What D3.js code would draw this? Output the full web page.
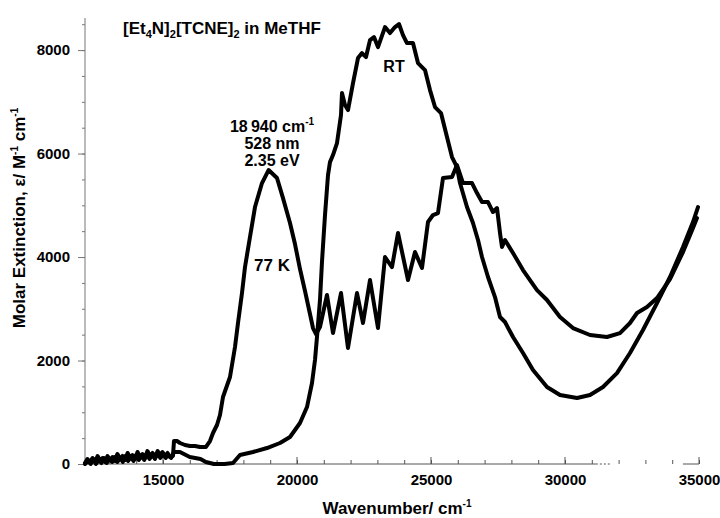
<!DOCTYPE html>
<html>
<head>
<meta charset="utf-8">
<script src="https://cdn.jsdelivr.net/npm/d3@7"></script>
<style>
  body { margin: 0; background: #fff; }
  text { font-family: "Liberation Sans", Arial, sans-serif; font-weight: bold; fill: #000; }
</style>
</head>
<body>
<div id="chart"></div>
<script>
// Spectrum at 77 K: [wavenumber cm-1, molar extinction]
const spec77K = [
  [12090, 19], [12180, 97], [12276, 39], [12370, 116], [12463, 39], [12560, 155], [12649, 58],
  [12740, 116], [12836, 39], [12930, 155], [13022, 77], [13115, 135], [13209, 58], [13300, 193],
  [13396, 97], [13490, 155], [13582, 77], [13680, 213], [13769, 116], [13860, 174], [13955, 97],
  [14050, 232], [14142, 135], [14235, 193], [14328, 116], [14420, 251], [14515, 155], [14610, 213],
  [14701, 135], [14800, 251], [14888, 174], [14980, 232], [15075, 155], [15170, 213], [15261, 135],
  [15373, 155], [15410, 444], [15522, 444], [15634, 406], [15821, 367], [16007, 348],
  [16194, 348], [16381, 329], [16604, 329], [16754, 444], [16866, 599], [17015, 754],
  [17127, 947], [17239, 1295], [17500, 1681], [17687, 2261], [17799, 2725], [17948, 3304],
  [18060, 3807], [18246, 4387], [18433, 4966], [18694, 5430], [18940, 5681], [19254, 5527],
  [19478, 5140], [19739, 4657], [19925, 4251], [20112, 3768], [20299, 3343], [20485, 2899],
  [20597, 2628], [20710, 2512], [20858, 2647], [21119, 3266], [21343, 2531], [21642, 3304],
  [21903, 2241], [22239, 3304], [22463, 2725], [22724, 3556], [23022, 2628], [23284, 4000],
  [23545, 3807], [23769, 4464], [24142, 3556], [24403, 4097], [24664, 3788], [24888, 4677],
  [25075, 4812], [25261, 4850], [25448, 5527], [25784, 5546], [25970, 5778], [26194, 5430],
  [26530, 5430], [26716, 5237], [26903, 5063], [27127, 5063], [27313, 4870], [27463, 4947],
  [27575, 4464], [27649, 4193], [27761, 4329], [28060, 4077], [28433, 3749], [28955, 3362],
  [29328, 3169], [29813, 2841], [30298, 2628], [30933, 2493], [31567, 2454], [32052, 2531],
  [32425, 2725], [32687, 2918], [33060, 3034], [33433, 3208], [33918, 3575], [34403, 4097],
  [34776, 4561], [34925, 4754]
];

// Spectrum at room temperature
const specRT = [
  [12090, 0], [12200, 58], [12300, 0], [12400, 97], [12500, 0], [12600, 77], [12700, 19],
  [12800, 116], [12900, 19], [13000, 97], [13100, 39], [13200, 135], [13300, 39], [13400, 116],
  [13500, 39], [13600, 155], [13700, 58], [13800, 135], [13900, 58], [14000, 174], [14100, 77],
  [14200, 155], [14300, 77], [14400, 193], [14500, 97], [14600, 174], [14700, 97], [14800, 213],
  [14900, 116], [15000, 193], [15100, 116], [15200, 174], [15300, 116], [15410, 232],
  [15634, 232], [16000, 135], [16400, 97], [16600, 39], [16900, 0], [17300, 0],
  [17612, 19], [17873, 174], [18358, 232], [18881, 309], [19366, 406], [19739, 522],
  [20112, 792], [20373, 1101], [20560, 1565], [20672, 2010], [20746, 2454], [20858, 3169],
  [20932, 3903], [21045, 4812], [21157, 5584], [21231, 5835], [21343, 5971], [21493, 6203],
  [21642, 6744], [21679, 7169], [21790, 6938], [21903, 6841], [22090, 7362], [22276, 7846],
  [22425, 7942], [22575, 7865], [22724, 8193], [22873, 8251], [23022, 8058], [23284, 8445],
  [23470, 8329], [23657, 8445], [23806, 8503], [23955, 8290], [24104, 8135], [24328, 8135],
  [24515, 7749], [24776, 7614], [24963, 7227], [25149, 6899], [25373, 6783], [25597, 6319],
  [25784, 5932], [25970, 5739], [26082, 5430], [26343, 4966], [26567, 4657], [26754, 4329],
  [26903, 4000], [27127, 3614], [27388, 3227], [27575, 2841], [27761, 2744], [28060, 2454],
  [28433, 2145], [28806, 1816], [29328, 1488], [29813, 1333], [30448, 1275], [30933, 1333],
  [31418, 1488], [31940, 1758], [32425, 2145], [32910, 2589], [33433, 3111], [33918, 3614],
  [34403, 4193], [34776, 4677], [34963, 4966]
];

const xTicks = [15000, 20000, 25000, 30000, 35000];
const yTicks = [0, 2000, 4000, 6000, 8000];

const width = 720, height = 518;
const svg = d3.select("#chart").append("svg")
  .attr("width", width).attr("height", height);

const x = d3.scaleLinear().domain([12090, 35000]).range([85, 699]);
const y = d3.scaleLinear().domain([0, 8620]).range([464, 18]);

// y axis, ticks outside
svg.append("g")
  .attr("transform", `translate(${x(12090)},0)`)
  .call(d3.axisLeft(y).tickValues(d3.range(0, 8501, 500)).tickSize(3).tickFormat(""))
  .call(g => g.select(".domain").remove())
  .call(g => g.selectAll("line").attr("stroke", "#777"));
svg.append("g")
  .attr("transform", `translate(${x(12090)},0)`)
  .call(d3.axisLeft(y).tickValues(yTicks).tickSize(7).tickPadding(8).tickFormat(d3.format("d")))
  .call(g => g.select(".domain").remove())
  .call(g => g.selectAll("line").attr("stroke", "#777"))
  .call(g => g.selectAll("text").attr("font-size", 15).attr("font-family", null));
svg.append("line")
  .attr("x1", x(12090)).attr("x2", x(12090))
  .attr("y1", y(0)).attr("y2", y(8620))
  .attr("stroke", "#777").attr("stroke-width", 1);

// x axis, ticks pointing up
svg.append("g")
  .attr("transform", `translate(0,${y(0)})`)
  .call(d3.axisTop(x).tickValues(d3.range(13000, 35001, 1000)).tickSize(4).tickFormat(""))
  .call(g => g.select(".domain").remove())
  .call(g => g.selectAll("line").attr("stroke", "#555"));
svg.append("g")
  .attr("transform", `translate(0,${y(0)})`)
  .call(d3.axisBottom(x).tickValues(xTicks).tickSize(0).tickPadding(10).tickFormat(d3.format("d")))
  .call(g => g.select(".domain").remove())
  .call(g => g.selectAll("text").attr("font-size", 15).attr("font-family", null));
svg.append("g")
  .attr("transform", `translate(0,${y(0)})`)
  .selectAll("line").data(xTicks).join("line")
  .attr("x1", d => x(d)).attr("x2", d => x(d))
  .attr("y1", 0).attr("y2", -7)
  .attr("stroke", "#555");

// axis baseline is broken in the original scan
const axisSegs = [[12090, 31150], [31150, 31700, "2,2"], [34400, 35000]];
svg.append("g").selectAll("line").data(axisSegs).join("line")
  .attr("x1", d => x(d[0])).attr("x2", d => x(d[1]))
  .attr("y1", y(0)).attr("y2", y(0))
  .attr("stroke", "#555").attr("stroke-width", 1)
  .attr("stroke-dasharray", d => d[2] || null);

// spectra
const line = d3.line().x(d => x(d[0])).y(d => y(d[1]));
svg.selectAll(".spec").data([specRT, spec77K]).join("path")
  .attr("class", "spec")
  .attr("d", line)
  .attr("fill", "none")
  .attr("stroke", "#000")
  .attr("stroke-width", 4)
  .attr("stroke-linejoin", "round")
  .attr("stroke-linecap", "round");

// title
const title = svg.append("text").attr("x", 123).attr("y", 34).attr("font-size", 17);
title.append("tspan").text("[Et");
title.append("tspan").attr("dy", 4).attr("font-size", 11).text("4");
title.append("tspan").attr("dy", -4).text("N]");
title.append("tspan").attr("dy", 4).attr("font-size", 11).text("2");
title.append("tspan").attr("dy", -4).text("[TCNE]");
title.append("tspan").attr("dy", 4).attr("font-size", 11).text("2");
title.append("tspan").attr("dy", -4).text(" in MeTHF");

// peak annotation, three lines
const annLines = ["528 nm", "2.35 eV"];
const ann = svg.append("g").attr("text-anchor", "middle").attr("font-size", 16);
const l1 = ann.append("text").attr("x", 272).attr("y", 132);
l1.append("tspan").text("18\u2009940 cm");
l1.append("tspan").attr("dy", -7).attr("font-size", 10).text("-1");
ann.selectAll(".al").data(annLines).join("text")
  .attr("class", "al")
  .attr("x", 272).attr("y", (d, i) => 149 + i * 17)
  .text(d => d);

svg.append("text").attr("x", 272).attr("y", 271).attr("text-anchor", "middle")
  .attr("font-size", 17).text("77 K");
svg.append("text").attr("x", 394).attr("y", 72).attr("text-anchor", "middle")
  .attr("font-size", 16).text("RT");

// axis labels
const xl = svg.append("text").attr("x", 397).attr("y", 514)
  .attr("text-anchor", "middle").attr("font-size", 17);
xl.append("tspan").text("Wavenumber/ cm");
xl.append("tspan").attr("dy", -7).attr("font-size", 10).text("-1");

const yl = svg.append("text")
  .attr("transform", "translate(25,218) rotate(-90)")
  .attr("text-anchor", "middle").attr("font-size", 17);
yl.append("tspan").text("Molar Extinction, \u03b5/ M");
yl.append("tspan").attr("dy", -7).attr("font-size", 10).text("-1");
yl.append("tspan").attr("dy", 7).text(" cm");
yl.append("tspan").attr("dy", -7).attr("font-size", 10).text("-1");
</script>
</body>
</html>
